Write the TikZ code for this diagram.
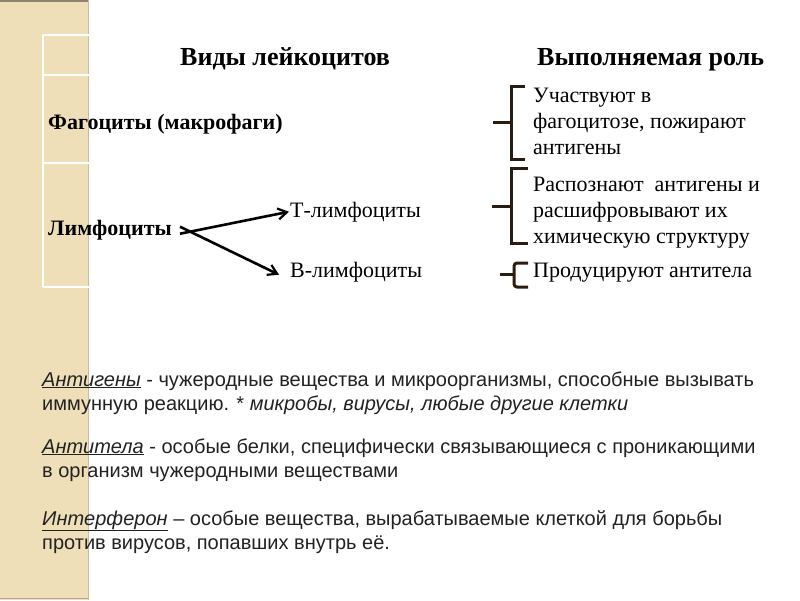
\documentclass[tikz,border=0pt]{standalone}
\usepackage{fontspec}
\setmainfont{Liberation Serif}
\newfontfamily\arialf{Liberation Sans}
\usetikzlibrary{arrows.meta}
\definecolor{stripc}{HTML}{EEDFB9}
\definecolor{stripedge}{HTML}{8C8270}
\definecolor{brk}{HTML}{2A1C10}
\definecolor{bodyc}{HTML}{222222}
\begin{document}
\begin{tikzpicture}[x=1pt,y=-1pt,
  hdr/.style={font=\fontsize{26}{30}\selectfont\bfseries, inner sep=0pt, anchor=base west},
  lbl/.style={font=\fontsize{22}{26}\selectfont, inner sep=0pt, anchor=base west},
  blbl/.style={font=\fontsize{22}{26}\selectfont\bfseries, inner sep=0pt, anchor=base west},
  body/.style={font=\arialf\fontsize{20}{24}\selectfont, text=bodyc, inner sep=0pt, anchor=base west},
  brace/.style={draw=brk, line width=3pt, line join=miter},
  arr/.style={line width=2.6pt, -{Straight Barb[length=9pt,width=11pt,line width=2.2pt]}},
  tgrid/.style={draw=white, line width=1.5pt}]
\useasboundingbox (0,0) rectangle (800,600);
\fill[white] (0,0) rectangle (800,600);
% side strip
\fill[stripc] (0,0) rectangle (88,600);
\draw[stripedge, line width=1.5pt] (0,0.75) -- (88,0.75);
\draw[stripedge!70, line width=1pt] (0,598.5) -- (88,598.5);
\draw[stripc!85!black, line width=0.5pt] (88,0) -- (88,600);
% table grid (white)
\draw[tgrid] (43,35) -- (780,35);
\draw[tgrid] (43,75) -- (780,75);
\draw[tgrid] (43,163) -- (780,163);
\draw[tgrid] (43,287) -- (780,287);
\draw[tgrid] (43,35) -- (43,287);
% headers
\node[hdr] (h1) at (180,65) {Виды лейкоцитов};
\node[hdr] (h2) at (537,65) {Выполняемая роль};
% left column
\node[blbl] (fag) at (48,129) {Фагоциты (макрофаги)};
\node[blbl] (lym) at (48,235) {Лимфоциты};
\node[lbl] (tl) at (290,217) {Т-лимфоциты};
\node[lbl] (bl) at (290,277) {В-лимфоциты};
\draw[arr] ([xshift=8pt,yshift=-4pt]lym.east) -- ([xshift=-1pt]tl.west);
\draw[arr] ([xshift=8pt,yshift=3pt]lym.east) -- ([xshift=-11pt,yshift=-3pt]bl.west);
% right column
\node[lbl] (r1a) at (533,102) {Участвуют в};
\node[lbl] (r1b) at (533,128) {фагоцитозе, пожирают};
\node[lbl] (r1c) at (533,154) {антигены};
\node[lbl] (r2a) at (533,191) {Распознают\ \ антигены и};
\node[lbl] (r2b) at (533,217) {расшифровывают их};
\node[lbl] (r2c) at (533,243) {химическую структуру};
\node[lbl] (r3) at (533,277) {Продуцируют антитела};
% brackets
\draw[brace] (525,86) -- (511,86) -- (511,159) -- (525,159);
\draw[brace] (493,122) -- (511,122);
\draw[brace] (528,168) -- (511,168) -- (511,243) -- (528,243);
\draw[brace] (492,206) -- (511,206);
\draw[brace, rounded corners=3pt] (528,263) -- (514,263) -- (514,287) -- (528,287);
\draw[brace] (500,274) -- (514,274);
% bottom definitions
\node[body] (d1a) at (42,386) {\textit{\underline{Антигены}} - чужеродные вещества и микроорганизмы, способные вызывать};
\node[body] (d1b) at (42,410) {иммунную реакцию. * \textit{микробы, вирусы, любые другие клетки}};
\node[body] (d2a) at (42,453) {\textit{\underline{Антитела}} - особые белки, специфически связывающиеся с проникающими};
\node[body] (d2b) at (42,477) {в организм чужеродными веществами};
\node[body] (d3a) at (42,525) {\textit{\underline{Интерферон}} – особые вещества, вырабатываемые клеткой для борьбы};
\node[body] (d3b) at (42,549) {против вирусов, попавших внутрь её.};
\end{tikzpicture}
\end{document}
